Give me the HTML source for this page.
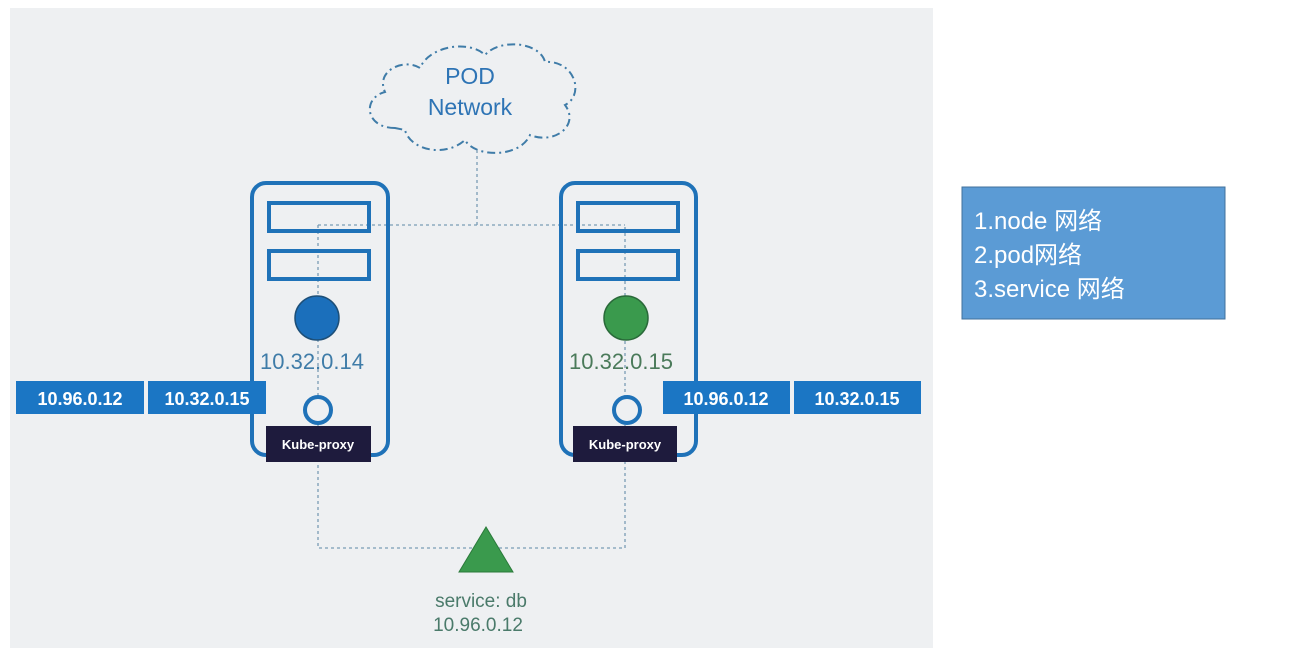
<!DOCTYPE html>
<html><head><meta charset="utf-8"><style>
html,body{margin:0;padding:0;background:#fff;width:1303px;height:658px;overflow:hidden}
</style></head><body>
<svg width="1303" height="658" viewBox="0 0 1303 658" xmlns="http://www.w3.org/2000/svg" font-family="Liberation Sans, sans-serif">
<rect x="10" y="8" width="923" height="640" fill="#eef0f2"/>
<!-- cloud -->
<path d="M395,128 C365,128 362,98 385,92 C375,70 405,58 420,68 C430,45 470,40 485,55 C500,38 540,42 545,62 C575,60 585,95 565,105 C580,125 555,145 530,135 C520,158 475,158 465,140 C445,158 410,150 405,130 Z" fill="none" stroke="#3f7ca8" stroke-width="2" stroke-dasharray="8,4,2,4"/>
<text x="470" y="84" font-size="23" fill="#2e74b5" text-anchor="middle">POD</text>
<text x="470" y="115" font-size="23" fill="#2e74b5" text-anchor="middle">Network</text>
<!-- dotted lines -->
<g stroke="#7a9cb5" stroke-width="1.3" stroke-dasharray="3,3" fill="none">
<path d="M477,150 V225"/>
<path d="M318,225 H625"/>
<path d="M318,225 V548 H625 V225"/>
</g>
<!-- left server -->
<rect x="252" y="183" width="136" height="272" rx="14" fill="none" stroke="#1f72b8" stroke-width="4"/>
<rect x="269" y="203" width="100" height="28" fill="none" stroke="#1f72b8" stroke-width="4"/>
<rect x="269" y="251" width="100" height="28" fill="none" stroke="#1f72b8" stroke-width="4"/>
<circle cx="317" cy="318" r="22" fill="#1b6fbb" stroke="#1d4f78" stroke-width="1.5"/>
<text x="312" y="369" font-size="22" fill="#3f7ca8" text-anchor="middle">10.32.0.14</text>
<circle cx="318" cy="410" r="13" fill="#eef0f2" stroke="#1f72b8" stroke-width="4"/>
<rect x="266" y="426" width="105" height="36" fill="#1e1b3d"/>
<text x="318" y="449" font-size="13" font-weight="bold" fill="#fff" text-anchor="middle">Kube-proxy</text>
<!-- right server -->
<rect x="561" y="183" width="135" height="272" rx="14" fill="none" stroke="#1f72b8" stroke-width="4"/>
<rect x="578" y="203" width="100" height="28" fill="none" stroke="#1f72b8" stroke-width="4"/>
<rect x="578" y="251" width="100" height="28" fill="none" stroke="#1f72b8" stroke-width="4"/>
<circle cx="626" cy="318" r="22" fill="#3a9a4d" stroke="#2a6a3a" stroke-width="1.5"/>
<text x="621" y="369" font-size="22" fill="#4a7a5a" text-anchor="middle">10.32.0.15</text>
<circle cx="627" cy="410" r="13" fill="#eef0f2" stroke="#1f72b8" stroke-width="4"/>
<rect x="573" y="426" width="104" height="36" fill="#1e1b3d"/>
<text x="625" y="449" font-size="13" font-weight="bold" fill="#fff" text-anchor="middle">Kube-proxy</text>
<!-- blue labels -->
<g font-size="18" font-weight="bold" fill="#fff" text-anchor="middle">
<rect x="16" y="381" width="128" height="33" fill="#1b76c4"/><text x="80" y="405">10.96.0.12</text>
<rect x="148" y="381" width="118" height="33" fill="#1b76c4"/><text x="207" y="405">10.32.0.15</text>
<rect x="663" y="381" width="127" height="33" fill="#1b76c4"/><text x="726" y="405">10.96.0.12</text>
<rect x="794" y="381" width="127" height="33" fill="#1b76c4"/><text x="857" y="405">10.32.0.15</text>
</g>
<!-- service -->
<polygon points="486,527 459,572 513,572" fill="#3a9a4d" stroke="#2a7a3a" stroke-width="1"/>
<text x="481" y="607" font-size="19" fill="#4a7a6a" text-anchor="middle">service: db</text>
<text x="478" y="631" font-size="19" fill="#4a7a6a" text-anchor="middle">10.96.0.12</text>
<!-- right note -->
<rect x="962" y="187" width="263" height="132" fill="#5b9bd5" stroke="#41719c" stroke-width="1"/>
<g font-size="24" fill="#fff" font-family="Liberation Sans, Noto Sans CJK SC, sans-serif">
<text x="974" y="229">1.node 网络</text>
<text x="974" y="263">2.pod网络</text>
<text x="974" y="297">3.service 网络</text>
</g>
</svg>
</body></html>
